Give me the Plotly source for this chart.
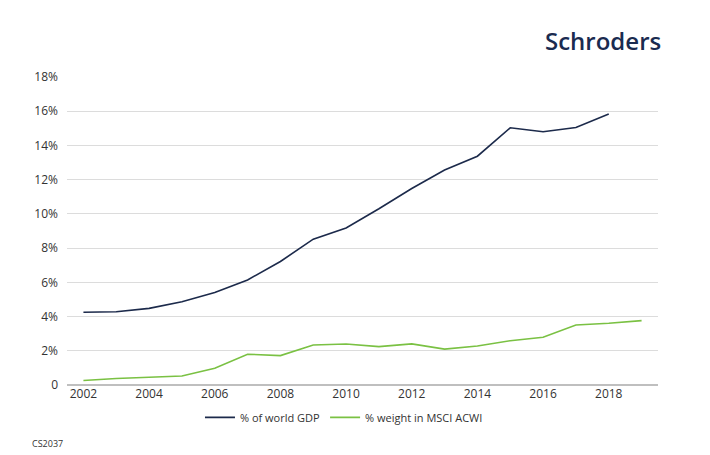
import plotly.graph_objects as go

years = list(range(2002, 2020))
gdp_share = [4.25, 4.28, 4.48, 4.86, 5.4, 6.14, 7.22, 8.52, 9.18, 10.3, 11.48, 12.56, 13.37, 15.03, 14.8, 15.05, 15.84, None]
msci_weight = [0.26, 0.38, 0.45, 0.53, 0.98, 1.8, 1.72, 2.34, 2.4, 2.24, 2.4, 2.1, 2.28, 2.59, 2.79, 3.51, 3.61, 3.76]
y_ticks = [0, 2, 4, 6, 8, 10, 12, 14, 16, 18]
y_labels = ["0", "2%", "4%", "6%", "8%", "10%", "12%", "14%", "16%", "18%"]
x_ticks = list(range(2002, 2019, 2))

navy = "#1c2a4b"
green = "#7ac143"
font = "Open Sans"

fig = go.Figure()
fig.add_trace(go.Scatter(x=years, y=gdp_share, mode="lines", name="% of world GDP",
                         line=dict(color=navy, width=1.6)))
fig.add_trace(go.Scatter(x=years, y=msci_weight, mode="lines", name="% weight in MSCI ACWI",
                         line=dict(color=green, width=1.6)))

fig.update_layout(
    width=702, height=447,
    margin=dict(l=59, r=52, t=69, b=70),
    paper_bgcolor="white", plot_bgcolor="white",
    font=dict(family=font, size=12, color="#333333"),
    showlegend=True,
    legend=dict(orientation="h", x=0.225, xanchor="left", y=-0.105, yanchor="middle",
                font=dict(size=11, color="#333333"), traceorder="normal"),
    xaxis=dict(range=[2001.5, 2019.5], tickvals=x_ticks, ticktext=[str(v) for v in x_ticks],
               showgrid=False, zeroline=False, showline=False, ticks="", tickfont=dict(size=12)),
    yaxis=dict(range=[0, 18], tickvals=y_ticks, ticktext=y_labels, showgrid=True,
               gridcolor="#dcdcdc", gridwidth=1, zeroline=True, zerolinecolor="#bfbfbf",
               zerolinewidth=2, showline=False, ticks="", ticklabelstandoff=8, tickfont=dict(size=12)),
)

fig.add_annotation(text="Schroders", xref="paper", yref="paper", x=1.009, y=1.117,
                   xanchor="right", yanchor="middle", showarrow=False,
                   font=dict(family=font, size=24, color="#1a2b50", weight=600))
fig.add_annotation(text="CS2037", xref="paper", yref="paper", x=-0.063, y=-0.19,
                   xanchor="left", yanchor="middle", showarrow=False,
                   font=dict(family=font, size=9, color="#333333"))

fig.write_html("out.html")
